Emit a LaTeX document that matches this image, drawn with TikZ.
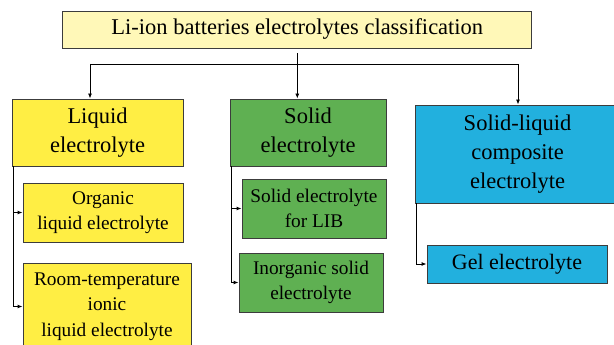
\documentclass[tikz,border=0pt]{standalone}
\usepackage{fontspec}
\setmainfont{Liberation Serif}
\newfontfamily\timesfont{Liberation Serif}
\usepackage{xcolor}
\usetikzlibrary{arrows.meta}
\definecolor{headC}{HTML}{FFF8B8}
\definecolor{liqC}{HTML}{FFEE44}
\definecolor{solC}{HTML}{5FB052}
\definecolor{mixC}{HTML}{22B0DE}
\definecolor{edgeC}{HTML}{3C3C3C}

\begin{document}
\begin{tikzpicture}[
    x=1pt, y=-1pt,
    box/.style={draw=edgeC, line width=0.9pt, align=center, inner sep=0pt},
    catbox/.style={box, font=\timesfont\fontsize{22.5}{29}\selectfont},
    subbox/.style={box, font=\timesfont\fontsize{19.3}{25.5}\selectfont},
    arrow/.style={-{Latex[length=5pt,width=4pt]}, line width=0.9pt, draw=black}
]
\useasboundingbox (0,0) rectangle (614,345);
\clip (0,0) rectangle (614,345);

\node[box, fill=headC, minimum width=469pt, minimum height=37pt,
      font=\timesfont\fontsize{22.5}{27}\selectfont] (head) at (297.3,29.5)
      {Li-ion batteries electrolytes classification};

\node[catbox, fill=liqC, minimum width=171pt, minimum height=67pt] (liquid) at (97.5,132.5) {Liquid\\electrolyte};
\node[catbox, fill=solC, minimum width=156pt, minimum height=67pt] (solid) at (308,132.5) {Solid\\electrolyte};
\node[catbox, fill=mixC, minimum width=205pt, minimum height=98pt] (mixed) at (517.5,154) {Solid-liquid\\composite\\electrolyte};

\node[subbox, fill=liqC, minimum width=160pt, minimum height=59pt] (organic) at (103,212.5) {Organic\\liquid electrolyte};
\node[subbox, fill=liqC, minimum width=168pt, minimum height=87pt] (ionic) at (107,306.5) {Room-temperature\\ionic\\liquid electrolyte};
\node[subbox, fill=solC, minimum width=144pt, minimum height=59pt] (lib) at (314,208.5) {Solid electrolyte\\for LIB};
\node[subbox, fill=solC, minimum width=144pt, minimum height=59pt] (inorg) at (311,282.5) {Inorganic solid\\electrolyte};
\node[box, fill=mixC, minimum width=180pt, minimum height=38pt,
      font=\timesfont\fontsize{22}{27}\selectfont] (gel) at (517,264) {Gel electrolyte};

% top level
\coordinate (busL) at (90,64);
\coordinate (busR) at (518,64);
\draw[line width=0.9pt] (busL) -- (busR);
\draw[arrow] ([yshift=-5pt]head.south) -- (head.south |- solid.north);
\draw[arrow] (busL) -- (busL |- liquid.north);
\draw[arrow] (busR) -- (busR |- mixed.north);

% branches
\draw[arrow] ([xshift=1.5pt]liquid.south west) |- (organic.west);
\draw[arrow] ([xshift=1.5pt]liquid.south west) |- (ionic.west);
\draw[arrow] ([xshift=1.5pt]solid.south west) |- (lib.west);
\draw[arrow] ([xshift=1.5pt]solid.south west) |- (inorg.west);
\draw[arrow] ([xshift=1.5pt]mixed.south west) |- (gel.west);
\end{tikzpicture}
\end{document}
